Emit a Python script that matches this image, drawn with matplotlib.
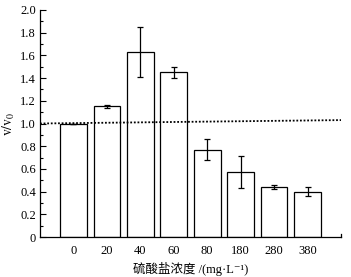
import numpy as np
import matplotlib.pyplot as plt
from matplotlib.ticker import MultipleLocator

plt.rcParams['font.family'] = ['Liberation Serif', 'Noto Sans CJK SC', 'DejaVu Sans']
plt.rcParams['font.size'] = 9
plt.rcParams['mathtext.fontset'] = 'stix'

conc = ['0', '20', '40', '60', '80', '180', '280', '380']
ratio = [1.0, 1.15, 1.63, 1.45, 0.77, 0.57, 0.44, 0.40]
err = [0.0, 0.01, 0.22, 0.05, 0.09, 0.14, 0.02, 0.04]
ref_x = [-1, 8]
ref_y = [1.0, 1.03]

fig = plt.figure(figsize=(3.51, 2.77), dpi=100)
ax = fig.add_axes([40/351, 40/277, 301/351, 227/277])

x = np.arange(len(conc))
ax.bar(x, ratio, width=0.8, color='white', edgecolor='black', linewidth=0.9,
       yerr=err, error_kw=dict(ecolor='black', elinewidth=0.9, capsize=2.5, capthick=0.9))
ax.plot(ref_x, ref_y, color='black', linestyle=(0, (1, 1)), linewidth=1.3)

ax.set_xlim(-1, 8)
ax.set_ylim(0, 2.0)
ax.set_xticks(x)
ax.set_xticklabels(conc)
ax.tick_params(axis='x', length=0, pad=6)
ax.yaxis.set_minor_locator(MultipleLocator(0.1))
ax.set_yticks(np.arange(0, 2.01, 0.2))
ax.set_yticklabels(['0'] + ['%.1f' % v for v in np.arange(0.2, 2.01, 0.2)])
ax.tick_params(axis='y', which='major', direction='in', length=4, width=0.8, pad=3)
ax.tick_params(axis='y', which='minor', direction='in', length=2, width=0.8)
ax.spines['top'].set_visible(False)
ax.spines['right'].set_visible(False)
ax.spines['left'].set_linewidth(0.9)
ax.spines['bottom'].set_linewidth(0.9)
# small end tick at right end of x axis
ax.plot([8, 8], [0, 0.025], color='black', linewidth=0.9, clip_on=False)

ax.set_ylabel('$\\mathrm{v/v_0}$', labelpad=2, fontsize=10)
ax.set_xlabel('硫酸盐浓度 /(mg·L⁻¹)', labelpad=3)

fig.savefig('out.png', dpi=100)
